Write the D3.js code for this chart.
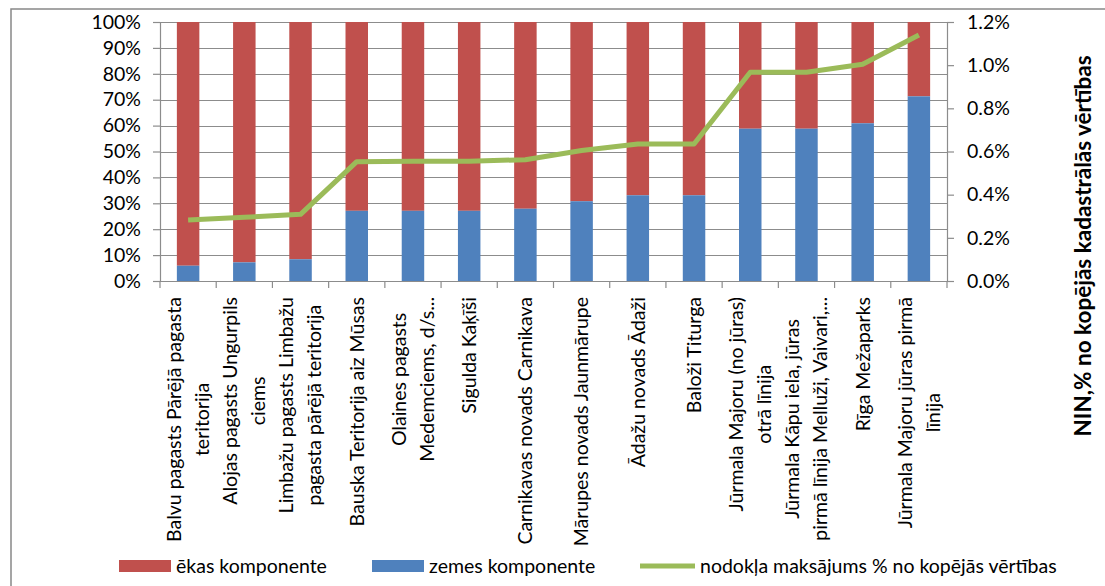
<!DOCTYPE html>
<html>
<head>
    <meta charset="UTF-8">
    <script src="https://cdn.jsdelivr.net/npm/d3@7"></script>
    <style>
        body { margin: 0; background: #fff; }
        text { font-family: Lato, "Open Sans", sans-serif; fill: #000; }
    </style>
</head>
<body>
<div id="chart"></div>
<script>
    // categories (each label split in lines, as in the picture)
    const categories = [
        ["Balvu pagasts Pārējā pagasta", "teritorija"],
        ["Alojas pagasts Ungurpils", "ciems"],
        ["Limbažu pagasts Limbažu", "pagasta pārējā teritorija"],
        ["Bauska Teritorija aiz Mūsas"],
        ["Olaines pagasts", "Medemciems, d/s..."],
        ["Sigulda Kaķīši"],
        ["Carnikavas novads Carnikava"],
        ["Mārupes novads Jaunmārupe"],
        ["Ādažu novads Ādaži"],
        ["Baloži Titurga"],
        ["Jūrmala Majoru (no jūras)", "otrā līnija"],
        ["Jūrmala Kāpu iela, jūras", "pirmā līnija Melluži, Vaivari,..."],
        ["Rīga Mežaparks"],
        ["Jūrmala Majoru jūras pirmā", "līnija"]
    ];
    // share of the land component in total value
    const zemes = [0.059, 0.072, 0.084, 0.271, 0.271, 0.271, 0.279, 0.308, 0.331, 0.331, 0.588, 0.588, 0.609, 0.713];
    // tax payment as % of total cadastral value
    const nodoklis = [0.00283, 0.00295, 0.00309, 0.00553, 0.00555, 0.00555, 0.00562, 0.00605, 0.00635, 0.00635, 0.00967, 0.00967, 0.01004, 0.0114];

    const leftTicks = d3.range(0, 1.01, 0.1);
    const rightTicks = [0, 0.002, 0.004, 0.006, 0.008, 0.010, 0.012];

    const seriesNames = ["ēkas komponente", "zemes komponente", "nodokļa maksājums % no kopējās vērtības"];
    const red = "#C0504D", blue = "#4F81BD", green = "#9BBB59", grid = "#8c8c8c";

    const W = 1105, H = 586;
    const plot = {left: 160, right: 947, top: 22, bottom: 281};
    const fs = "19.5px";

    const svg = d3.select("#chart").append("svg")
        .attr("width", W)
        .attr("height", H);

    // outer chart frame
    svg.append("rect")
        .attr("x", 11).attr("y", 9)
        .attr("width", W).attr("height", H)
        .style("fill", "none")
        .style("stroke", "#888")
        .style("stroke-width", 1.5);

    const x = d3.scaleBand()
        .domain(d3.range(categories.length))
        .range([plot.left, plot.right])
        .paddingInner(0.6)
        .paddingOuter(0.3);

    const y = d3.scaleLinear().domain([0, 1]).range([plot.bottom, plot.top]);
    const y2 = d3.scaleLinear().domain([0, 0.012]).range([plot.bottom, plot.top]);

    // gridlines
    svg.append("g")
        .selectAll("line")
        .data(leftTicks)
        .join("line")
        .attr("x1", plot.left).attr("x2", plot.right)
        .attr("y1", d => Math.round(y(d)) + 0.5)
        .attr("y2", d => Math.round(y(d)) + 0.5)
        .style("stroke", grid)
        .style("stroke-width", 1.2);

    // stacked bars
    const bars = svg.append("g");
    bars.selectAll(".ekas")
        .data(zemes)
        .join("rect")
        .attr("class", "ekas")
        .attr("x", (d, i) => x(i))
        .attr("width", x.bandwidth())
        .attr("y", y(1))
        .attr("height", d => y(d) - y(1))
        .style("fill", red);
    bars.selectAll(".zemes")
        .data(zemes)
        .join("rect")
        .attr("class", "zemes")
        .attr("x", (d, i) => x(i))
        .attr("width", x.bandwidth())
        .attr("y", d => y(d))
        .attr("height", d => y(0) - y(d))
        .style("fill", blue);

    // left axis
    const leftAxis = svg.append("g")
        .attr("transform", `translate(${plot.left},0)`)
        .call(d3.axisLeft(y).tickValues(leftTicks).tickFormat(d3.format(".0%")).tickSize(7).tickPadding(12));
    // right axis
    const rightAxis = svg.append("g")
        .attr("transform", `translate(${plot.right},0)`)
        .call(d3.axisRight(y2).tickValues(rightTicks).tickFormat(d3.format(".1%")).tickSize(7).tickPadding(13));
    // bottom axis with ticks between categories
    const xEdges = d3.range(categories.length + 1).map(i => plot.left + i * x.step());
    const bottom = svg.append("g");
    bottom.append("line")
        .attr("x1", plot.left).attr("x2", plot.right)
        .attr("y1", plot.bottom + 0.5).attr("y2", plot.bottom + 0.5)
        .style("stroke", grid).style("stroke-width", 1.2);
    bottom.selectAll(".tk")
        .data(xEdges)
        .join("line")
        .attr("class", "tk")
        .attr("x1", d => d).attr("x2", d => d)
        .attr("y1", plot.bottom).attr("y2", plot.bottom + 7)
        .style("stroke", grid).style("stroke-width", 1.2);

    [leftAxis, rightAxis].forEach(a => {
        a.select(".domain").style("stroke", grid).style("stroke-width", 1.2);
        a.selectAll(".tick line").style("stroke", grid).style("stroke-width", 1.2);
        a.selectAll(".tick text").style("font-size", fs).attr("fill", "#000");
    });

    // tax line
    const line = d3.line()
        .x((d, i) => x(i) + x.bandwidth() / 2)
        .y(d => y2(d));
    svg.append("path")
        .datum(nodoklis)
        .attr("d", line)
        .style("fill", "none")
        .style("stroke", green)
        .style("stroke-width", 5)
        .style("stroke-linejoin", "round");

    // category labels, rotated, top aligned under the axis
    const lineH = 28;
    const labels = svg.append("g")
        .selectAll("g")
        .data(categories)
        .join("g")
        .attr("transform", (d, i) => `translate(${x(i) + x.bandwidth() / 2},297) rotate(-90)`);
    labels.each(function(d) {
        const g = d3.select(this);
        const texts = g.selectAll("text")
            .data(d)
            .join("text")
            .text(t => t)
            .style("font-size", fs)
            .attr("text-anchor", "middle")
            .attr("y", (t, j) => (j - (d.length - 1) / 2) * lineH)
            .attr("dy", "0.35em");
        let maxW = 0;
        texts.each(function() { maxW = Math.max(maxW, this.getComputedTextLength()); });
        texts.attr("x", -maxW / 2);
    });

    // right axis title
    svg.append("text")
        .attr("transform", "translate(1091,246) rotate(-90)")
        .attr("text-anchor", "middle")
        .style("font-size", "22.5px")
        .style("font-weight", "bold")
        .text("NIN,% no kopējās kadastrālās vērtības");

    // legend
    const legend = svg.append("g");
    const lg = [
        {x: 119, name: seriesNames[0], color: red, type: "rect"},
        {x: 372, name: seriesNames[1], color: blue, type: "rect"},
        {x: 640, name: seriesNames[2], color: green, type: "line"}
    ];
    lg.forEach(l => {
        if (l.type === "rect") {
            legend.append("rect")
                .attr("x", l.x).attr("y", 560)
                .attr("width", 52).attr("height", 12)
                .style("fill", l.color);
        } else {
            legend.append("line")
                .attr("x1", l.x).attr("x2", l.x + 55)
                .attr("y1", 566).attr("y2", 566)
                .style("stroke", l.color)
                .style("stroke-width", 5);
        }
        legend.append("text")
            .attr("x", l.x + (l.type === "rect" ? 57 : 60))
            .attr("y", 573)
            .style("font-size", fs)
            .text(l.name);
    });
</script>
</body>
</html>
